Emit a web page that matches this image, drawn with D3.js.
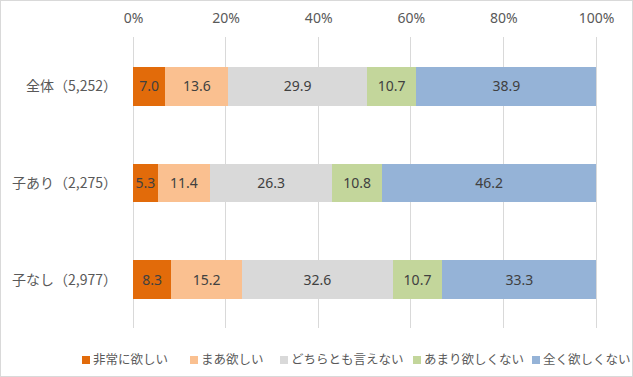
<!DOCTYPE html>
<html>
<head>
<meta charset="utf-8">
<script src="https://cdn.jsdelivr.net/npm/d3@7"></script>
<style>
  body { margin: 0; background: #fff; }
  svg { font-family: "Noto Sans CJK JP", "Noto Sans", sans-serif; }
</style>
</head>
<body>
<div id="chart"></div>
<script>
// Données
const categories = ["全体（5,252）", "子あり（2,275）", "子なし（2,977）"];
const series = ["非常に欲しい", "まあ欲しい", "どちらとも言えない", "あまり欲しくない", "全く欲しくない"];
const values = [
  [7.0, 13.6, 29.9, 10.7, 38.9],
  [5.3, 11.4, 26.3, 10.8, 46.2],
  [8.3, 15.2, 32.6, 10.7, 33.3]
];
const ticks = [0, 20, 40, 60, 80, 100];
const colors = ["#E26B0A", "#FAC090", "#D9D9D9", "#C3D69B", "#95B3D7"];

const W = 633, H = 377;
const plotLeft = 133, plotRight = 596, plotTop = 37, plotBottom = 328;

const svg = d3.select("#chart").append("svg")
  .attr("width", W).attr("height", H);

// cadre
svg.append("rect")
  .attr("x", 0.5).attr("y", 0.5)
  .attr("width", W - 1).attr("height", H - 1)
  .attr("fill", "#fff").attr("stroke", "#d9d9d9");

const x = d3.scaleLinear().domain([0, 100]).range([plotLeft, plotRight]);
const y = d3.scaleBand().domain(categories).range([plotTop + 1, plotBottom]).paddingInner(0.6).paddingOuter(0.3);

// Grille
svg.append("g").selectAll("line")
  .data(ticks).enter().append("line")
  .attr("x1", d => x(d)).attr("x2", d => x(d))
  .attr("y1", plotTop).attr("y2", plotBottom)
  .attr("stroke", "#d9d9d9").attr("stroke-width", 1)
  .attr("shape-rendering", "crispEdges");

// Axe du haut (texte seulement)
const axis = svg.append("g")
  .attr("transform", `translate(0,18)`)
  .call(d3.axisTop(x).tickValues(ticks).tickFormat(d => d + "%").tickSize(0).tickPadding(0));
axis.select(".domain").remove();
axis.selectAll("text")
  .attr("dy", "0.35em")
  .attr("fill", "#595959").style("font-size", "14px")
  .style("font-family", "'Noto Sans', sans-serif");

// Libellés des catégories
svg.append("g").selectAll("text")
  .data(categories).enter().append("text")
  .attr("x", plotLeft - 16)
  .attr("y", d => y(d) + y.bandwidth() / 2)
  .attr("dy", "0.35em")
  .attr("text-anchor", "end")
  .attr("fill", "#595959")
  .style("font-size", "14px")
  .text(d => d);

// Barres empilées
const rows = values.map((v, i) => {
  let acc = 0;
  return v.map((val, j) => {
    const s = { cat: categories[i], j: j, x0: acc, x1: acc + val, val: val };
    acc += val;
    return s;
  });
});

const g = svg.append("g");
rows.forEach(row => {
  g.selectAll(null).data(row).enter().append("rect")
    .attr("x", d => x(d.x0))
    .attr("y", d => y(d.cat))
    .attr("width", d => x(d.x1) - x(d.x0))
    .attr("height", y.bandwidth())
    .attr("fill", d => colors[d.j])
    .attr("shape-rendering", "crispEdges");
  g.selectAll(null).data(row).enter().append("text")
    .attr("x", d => (x(d.x0) + x(d.x1)) / 2)
    .attr("y", d => y(d.cat) + y.bandwidth() / 2)
    .attr("dy", "0.35em")
    .attr("text-anchor", "middle")
    .attr("fill", "#404040")
    .style("font-size", "14px")
    .style("font-family", "'Noto Sans', sans-serif")
    .text(d => d3.format(".1f")(d.val));
});

// Légende
const legendX = [82, 190, 280, 413, 532];
const leg = svg.append("g").attr("transform", "translate(0,360)");
series.forEach((s, i) => {
  const it = leg.append("g").attr("transform", `translate(${legendX[i]},0)`);
  it.append("rect").attr("x", 0).attr("y", -4).attr("width", 8).attr("height", 8).attr("fill", colors[i]);
  it.append("text").attr("x", 11).attr("dy", "0.35em")
    .attr("fill", "#595959").style("font-size", "12.5px").text(s);
});
</script>
</body>
</html>
